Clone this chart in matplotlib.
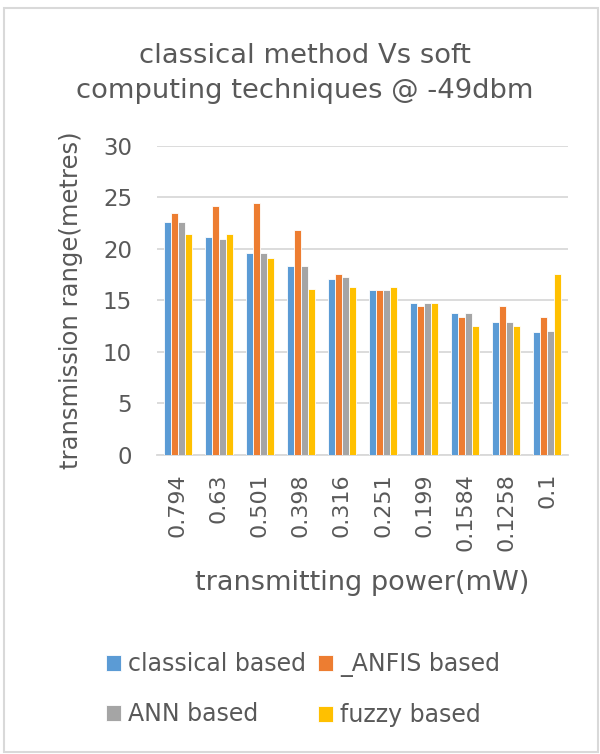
import matplotlib
matplotlib.use("Agg")
import matplotlib.pyplot as plt
import numpy as np
from matplotlib.patches import Rectangle

# DATA
power_labels = ["0.794", "0.63", "0.501", "0.398", "0.316",
                "0.251", "0.199", "0.1584", "0.1258", "0.1"]
classical = [22.6, 21.2, 19.6, 18.3, 17.1, 16.0, 14.8, 13.8, 12.9, 11.9]
anfis = [23.5, 24.2, 24.5, 21.8, 17.6, 16.0, 14.5, 13.4, 14.5, 13.4]
ann = [22.6, 21.0, 19.6, 18.3, 17.3, 16.0, 14.8, 13.8, 12.9, 12.0]
fuzzy = [21.5, 21.5, 19.1, 16.1, 16.3, 16.3, 14.8, 12.5, 12.5, 17.6]

series_names = ["classical based", "_ANFIS based", "ANN based", "fuzzy based"]
series_colors = ["#5B9BD5", "#ED7D31", "#A5A5A5", "#FFC000"]
text_color = "#595959"
grid_color = "#D9D9D9"

plt.rcParams["font.family"] = ["DejaVu Sans"]

fig = plt.figure(figsize=(6.0, 7.54), dpi=100)

# CHART AREA BORDER
fig.patches.append(Rectangle((0.007, 0.003), 0.99, 0.987, transform=fig.transFigure,
                             fill=False, edgecolor=grid_color, linewidth=1.5))

ax = fig.add_axes([0.2617, 0.3966, 0.685, 0.4098])

x = np.arange(len(power_labels))
width = 0.17
all_series = [classical, anfis, ann, fuzzy]
handles = []
for i, (vals, color) in enumerate(zip(all_series, series_colors)):
    bars = ax.bar(x + (i - 1.5) * width, vals, width, color=color,
                  edgecolor="white", linewidth=0.6, zorder=3)
    handles.append(bars)

ax.set_xlim(-0.5, len(power_labels) - 0.5)
ax.set_ylim(0, 30)
ax.set_yticks(range(0, 31, 5))
ax.yaxis.grid(True, color=grid_color, linewidth=1.3, zorder=0)
ax.set_xticks(x)
ax.set_xticklabels(power_labels, rotation=90)
ax.tick_params(axis="both", length=0, colors=text_color)
ax.tick_params(axis="y", pad=18, labelsize=16.5)
ax.tick_params(axis="x", pad=13, labelsize=16)
for side in ["top", "right", "left"]:
    ax.spines[side].set_visible(False)
ax.spines["bottom"].set_color(grid_color)
ax.spines["bottom"].set_linewidth(1.3)

ax.set_ylabel("transmission range(metres)", fontsize=17.5, color=text_color, labelpad=14)
ax.set_xlabel("transmitting power(mW)", fontsize=19.5, color=text_color, labelpad=14)

fig.text(0.508, 0.902, "classical method Vs soft\ncomputing techniques @ -49dbm",
         ha="center", va="center", fontsize=19.7, color=text_color, linespacing=1.45)

# legend fills column-wise, so order gives rows: classical|ANFIS, ANN|fuzzy
order = [0, 2, 1, 3]
leg = fig.legend([handles[k] for k in order], [series_names[k] for k in order],
                 loc="center", bbox_to_anchor=(0.505, 0.085), ncol=2, frameon=False,
                 fontsize=17, handlelength=0.65, handleheight=0.65, handletextpad=0.3,
                 columnspacing=0.5, labelspacing=1.1)
for t in leg.get_texts():
    t.set_color(text_color)

plt.savefig("out.png", dpi=100)
